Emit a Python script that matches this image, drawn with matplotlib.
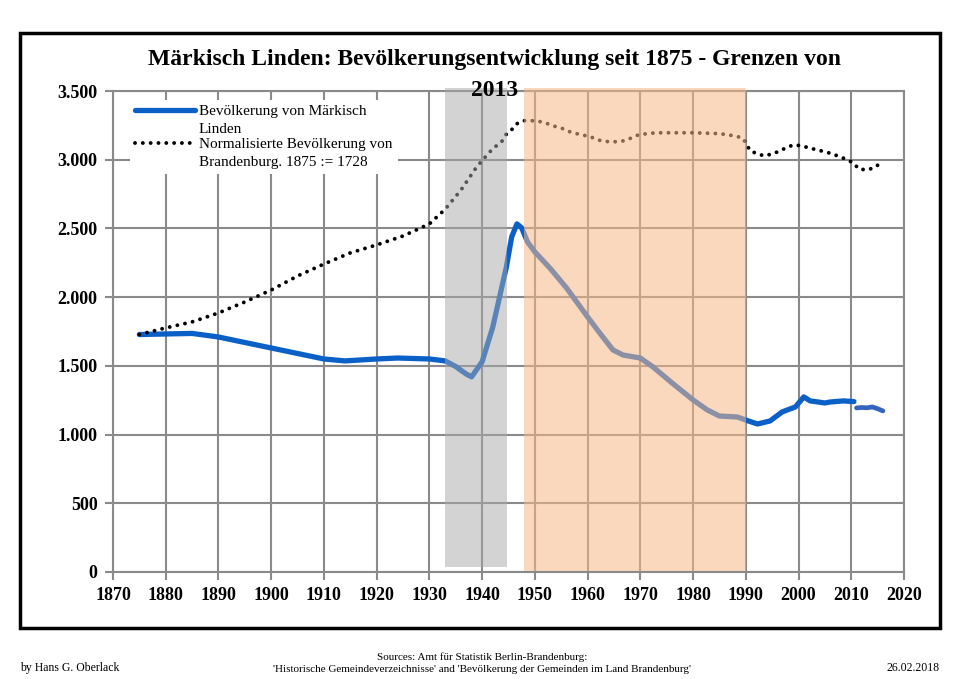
import numpy as np
import matplotlib.pyplot as plt
from matplotlib.patches import Rectangle
from matplotlib.ticker import FuncFormatter, MultipleLocator
from matplotlib.legend_handler import HandlerLine2D

# Märkisch Linden population
years_ml = [1875, 1880, 1885, 1890, 1895, 1900, 1905, 1910, 1914, 1920, 1924,
            1930, 1933, 1935, 1937, 1938, 1940, 1942, 1943.3, 1944.6, 1945.6,
            1946.6, 1947.5, 1948.6, 1950, 1953, 1956, 1960, 1962.3, 1964.8,
            1966.7, 1970, 1972.4, 1976, 1980, 1982.7, 1985, 1988.4, 1990.5,
            1992.2, 1994.6, 1996.9, 1999.4, 2001, 2002.2, 2005, 2006, 2008.5,
            2010.5]
pop_ml = [1728, 1732, 1736, 1710, 1670, 1630, 1590, 1550, 1536, 1550, 1557,
          1550, 1536, 1495, 1440, 1420, 1530, 1780, 2000, 2220, 2438,
          2533, 2504, 2402, 2329, 2205, 2067, 1856, 1739, 1616,
          1579, 1557, 1492, 1376, 1252, 1179, 1135, 1128, 1099,
          1077, 1099, 1165, 1201, 1274, 1245, 1230, 1237, 1245,
          1240]
# after the 2011 census
years_ml2 = [2011, 2012, 2013, 2014, 2015, 2016]
pop_ml2 = [1194, 1197, 1195, 1201, 1188, 1172]

# normalised Brandenburg population, 1875 := 1728
years_bb = [1875, 1880, 1885, 1890, 1895, 1900, 1905, 1910, 1915, 1920, 1925,
            1930, 1933, 1936, 1939, 1942, 1943.7, 1944.5, 1945.6, 1946.6,
            1948, 1949.4, 1951, 1952.4, 1954, 1955.3, 1956.6, 1958, 1959.6,
            1961, 1962.5, 1964, 1965.5, 1967, 1968.4, 1969.7, 1971.2, 1973,
            1975, 1980, 1985, 1987.6, 1989.3, 1990, 1990.8, 1992.1, 1993.5,
            1995, 1996.5, 1997.9, 1999.2, 2000.7, 2002, 2003.6, 2005.1, 2006.4,
            2008, 2009.3, 2010.4, 2011.4, 2012.9, 2014.3, 2015.6]
pop_bb = [1728, 1776, 1820, 1885, 1965, 2052, 2154, 2241, 2322, 2380, 2445,
          2533, 2640, 2780, 2950, 3080, 3131, 3182, 3218, 3262,
          3284, 3284, 3277, 3262, 3240, 3226, 3204, 3189, 3175,
          3160, 3138, 3131, 3131, 3138, 3160, 3182, 3189, 3196,
          3196, 3196, 3190, 3175, 3160, 3124, 3066, 3044, 3028,
          3042, 3064, 3093, 3108, 3100, 3086, 3071, 3057, 3042,
          3020, 2998, 2977, 2933, 2926, 2940, 2977]

# shaded periods: Nazi era, GDR
periods = [(1933, 1944.8, "#a9a9a9", 0.5, 40), (1948, 1990, "#f7b888", 0.55, 10)]

title = "Märkisch Linden: Bevölkerungsentwicklung seit 1875 - Grenzen von\n2013"
label_ml = "Bevölkerung von Märkisch\nLinden"
label_bb = "Normalisierte Bevölkerung von\nBrandenburg. 1875 := 1728"

serif = "Liberation Serif"
grid_col = "#8a8a8a"


class FirstLineHandler(HandlerLine2D):
    # put the legend handle next to the first line of a two-line label
    def create_artists(self, legend, orig_handle, xdescent, ydescent, width,
                       height, fontsize, trans):
        arts = super().create_artists(legend, orig_handle, xdescent, ydescent,
                                      width, height, fontsize, trans)
        for a in arts:
            a.set_ydata(np.asarray(a.get_ydata()) + 0.68 * fontsize)
        return arts


fig = plt.figure(figsize=(9.6, 6.79), dpi=100)
ax = fig.add_axes([113 / 960, 1 - 572 / 679, 791 / 960, 481 / 679])

ax.plot(years_ml, pop_ml, color="#0b60c8", lw=3.8, solid_capstyle="round",
        solid_joinstyle="round", zorder=3, label=label_ml)
ax.plot(years_ml2, pop_ml2, color="#3564c0", lw=3.4, solid_capstyle="round",
        zorder=3)
ax.plot(years_bb, pop_bb, color="black", lw=2.8, linestyle=(0, (0.01, 2.0)),
        dash_capstyle="round", zorder=3, label=label_bb)

for start, end, col, alpha, bottom in periods:
    ax.add_patch(Rectangle((start, bottom), end - start, 3525 - bottom,
                           facecolor=col, alpha=alpha, edgecolor="none",
                           zorder=4, clip_on=False))

ax.set_xlim(1870, 2020)
ax.set_ylim(0, 3500)
ax.xaxis.set_major_locator(MultipleLocator(10))
ax.yaxis.set_major_locator(MultipleLocator(500))
ax.yaxis.set_major_formatter(FuncFormatter(lambda v, p: f"{v:,.0f}".replace(",", ".")))
ax.grid(True, color=grid_col, lw=1.5, zorder=1)
ax.set_axisbelow(True)
for s in ax.spines.values():
    s.set_color(grid_col)
    s.set_linewidth(1.5)
ax.tick_params(direction="out", length=6, width=1.5, color=grid_col, pad=5)
for lab in ax.get_xticklabels() + ax.get_yticklabels():
    lab.set_fontfamily(serif)
    lab.set_fontweight("bold")
    lab.set_fontsize(13)

leg = ax.legend(loc="upper left", bbox_to_anchor=(0.012, 0.997), frameon=True,
                facecolor="white", edgecolor="none", framealpha=1,
                prop={"family": serif, "size": 11}, handlelength=3.9,
                handletextpad=0.25, labelspacing=0.15, borderpad=0.35,
                handler_map={plt.Line2D: FirstLineHandler()})
for t in leg.get_texts():
    t.set_linespacing(1.45)
    t.set_multialignment("left")
leg.set_zorder(6)

fig.text(495 / 960, 1 - 49 / 679, title, ha="center", va="top",
         fontfamily=serif, fontweight="bold", fontsize=17, linespacing=1.6)

# outer frame
fig.add_artist(Rectangle((20 / 960, 1 - 628 / 679), 920 / 960, 595 / 679,
                         transform=fig.transFigure, fill=False,
                         edgecolor="black", lw=2.5))

fig.text(20 / 960, 1 - 668 / 679, "by Hans G. Oberlack", ha="left", va="center",
         fontfamily=serif, fontsize=8.5)
fig.text(940 / 960, 1 - 668 / 679, "26.02.2018", ha="right", va="center",
         fontfamily=serif, fontsize=8.5)
fig.text(482 / 960, 1 - 663 / 679,
         "Sources: Amt für Statistik Berlin-Brandenburg:\n"
         "'Historische Gemeindeverzeichnisse' and 'Bevölkerung der Gemeinden im Land Brandenburg'",
         ha="center", va="center", fontfamily=serif, fontsize=8, linespacing=1.5)

fig.savefig("out.png", dpi=100)
